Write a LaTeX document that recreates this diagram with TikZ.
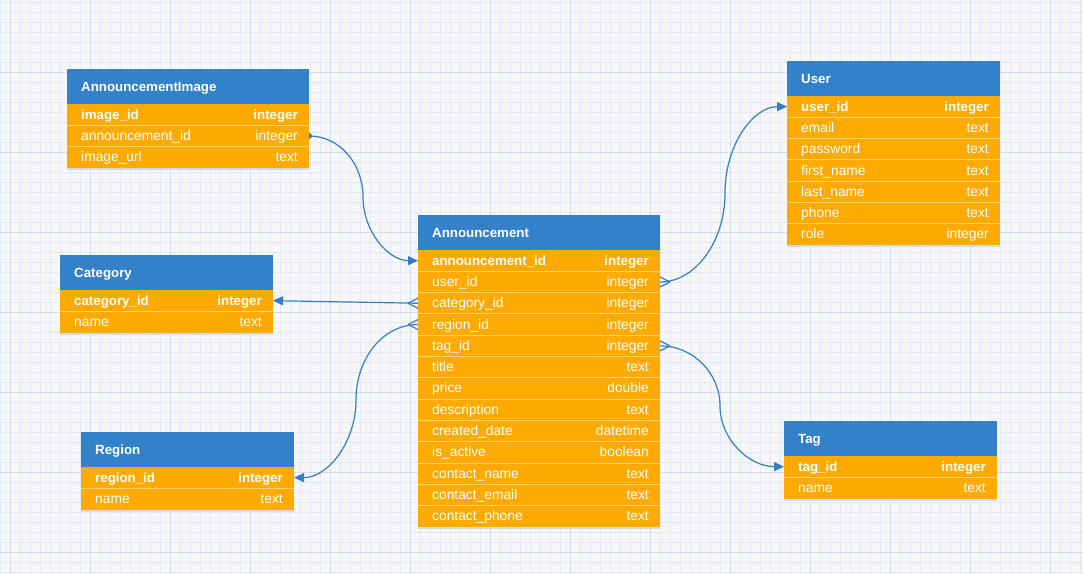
\documentclass[tikz,border=0pt]{standalone}
\usepackage{fontspec}
\setmainfont{Liberation Sans}
\usetikzlibrary{calc,arrows.meta}
\definecolor{bgcol}{RGB}{247,247,248}
\definecolor{gridminorcol}{RGB}{226,233,245}
\definecolor{gridmajorcol}{RGB}{208,222,243}
\definecolor{hdrcol}{RGB}{51,129,201}
\definecolor{rowcol}{RGB}{255,170,0}
\definecolor{sepcol}{RGB}{255,208,120}
\definecolor{shadowcol}{RGB}{208,220,234}
\definecolor{conncol}{RGB}{54,125,198}
\tikzset{
  x=1pt, y=-1pt,
  gridminor/.style={draw=gridminorcol, line width=0.8pt},
  gridmajor/.style={draw=gridmajorcol, line width=1pt},
  hdrbox/.style={fill=hdrcol, draw=none, minimum height=35pt, inner sep=0pt, outer sep=0pt},
  rowbox/.style={fill=rowcol, draw=none, minimum height=21.3pt, inner sep=0pt, outer sep=0pt},
  sepline/.style={draw=sepcol, line width=1pt},
  shadowline/.style={draw=shadowcol, line width=2pt},
  titletext/.style={anchor=base west, inner sep=0pt, text=white, font=\fontsize{13.3}{16}\selectfont\bfseries},
  fieldtext/.style={anchor=base west, inner sep=0pt, text=white, font=\fontsize{13.8}{16}\selectfont},
  typetext/.style={anchor=base east, inner sep=0pt, text=white, font=\fontsize{13.8}{16}\selectfont},
  conn/.style={draw=conncol, line width=1.2pt},
  tip/.style={-{Triangle[length=10pt,width=9pt]}}
}
\newcommand\keyfont{\fontsize{13.3}{16}\selectfont\bfseries}
\newcommand\ertable[6]{%
  \node[hdrbox, minimum width=#4, anchor=north west] (#1) at (#2,#3) {};
  \node[titletext] (#1-title) at ($(#1.west)+(14,4.5)$) {#5};
  \foreach [count=\i] \f/\t in {#6} {
    \pgfmathsetmacro\yy{#3+35+(\i-1)*21.3}
    \node[rowbox, minimum width=#4, anchor=north west] (#1-\i) at (#2,\yy) {};
    \draw[shadowline] ($(#1-\i.south west)+(0,1)$) -- ($(#1-\i.south east)+(0,1)$);
    \ifnum\i>1 \draw[sepline] (#1-\i.north west) -- (#1-\i.north east);\fi
    \node[fieldtext] (#1-\i-f) at ($(#1-\i.west)+(14,4.5)$) {\ifnum\i=1 \keyfont\fi\f};
    \node[typetext] (#1-\i-t) at ($(#1-\i.east)+(-11,4.5)$) {\ifnum\i=1 \keyfont\fi\t};
  }
}
\newcommand\crowfoot[2]{%
  \draw[conn] ($(#1)+(#2*10,0)$) -- ($(#1)+(0,-5)$)
              ($(#1)+(#2*10,0)$) -- ($(#1)+(0,5)$);
}
\begin{document}
\begin{tikzpicture}
\useasboundingbox (0,0) rectangle (1083,573);
\fill[bgcol] (0,0) rectangle (1083,573);
\foreach \x in {0,10,...,1080} \draw[gridminor] (\x,0) -- (\x,573);
\foreach \y in {2,12,...,572} \draw[gridminor] (0,\y) -- (1083,\y);
\foreach \x in {10,90,...,1050} \draw[gridmajor] (\x,0) -- (\x,573);
\foreach \y in {72,152,...,552} \draw[gridmajor] (0,\y) -- (1083,\y);

\ertable{img}{67}{69}{242}{AnnouncementImage}{image\_id/integer, announcement\_id/integer, image\_url/text}
\ertable{user}{787}{61}{213}{User}{user\_id/integer, email/text, password/text, first\_name/text, last\_name/text, phone/text, role/integer}
\ertable{cat}{60}{255}{213}{Category}{category\_id/integer, name/text}
\ertable{ann}{418}{215}{242}{Announcement}{announcement\_id/integer, user\_id/integer, category\_id/integer, region\_id/integer, tag\_id/integer, title/text, price/double, description/text, created\_date/datetime, is\_active/boolean, contact\_name/text, contact\_email/text, contact\_phone/text}
\ertable{reg}{81}{432}{213}{Region}{region\_id/integer, name/text}
\ertable{tag}{784}{421}{213}{Tag}{tag\_id/integer, name/text}

% connectors
\coordinate (m1) at (363,197);
\coordinate (m2) at (725,193);
\coordinate (m4) at (356,400);
\coordinate (m5) at (720,406);

\draw[conn,tip] (img-2.east) .. controls +(30,0) and +(0,-34) .. (m1)
                .. controls +(0,34) and +(-30,0) .. (ann-1.west);
\fill[conncol] (img-2.east) ++(0,-3) arc[start angle=-90,end angle=90,radius=3] -- cycle;

\draw[conn,tip] (ann-2.east) .. controls +(36,0) and +(0,48) .. (m2)
                .. controls +(0,-48) and +(-34,0) .. (user-1.west);
\crowfoot{ann-2.east}{1}

\draw[conn,tip] (ann-3.west) -- (cat-1.east);
\crowfoot{ann-3.west}{-1}

\draw[conn,tip] (ann-4.west) .. controls +(-35,0) and +(0,-42) .. (m4)
                .. controls +(0,42) and +(34,0) .. (reg-1.east);
\crowfoot{ann-4.west}{-1}

\draw[conn,tip] (ann-5.east) .. controls +(33,0) and +(0,-33) .. (m5)
                .. controls +(0,33) and +(-35,0) .. (tag-1.west);
\crowfoot{ann-5.east}{1}
\end{tikzpicture}
\end{document}
